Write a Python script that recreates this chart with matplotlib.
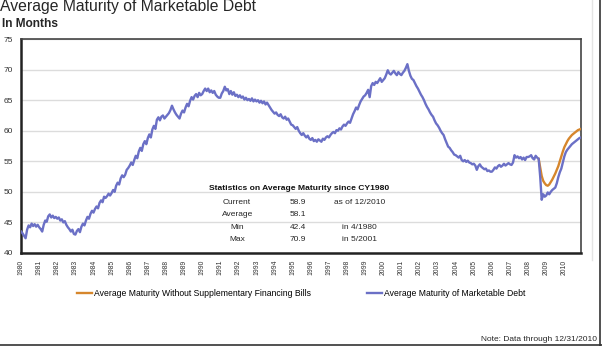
import numpy as np
import matplotlib
matplotlib.use("Agg")
from matplotlib import pyplot as plt
from matplotlib.lines import Line2D

plt.rcParams['font.family'] = ['Liberation Sans', 'DejaVu Sans']

# Monthly average maturity (months), Jan 1980 .. Dec 2010, one row per year
avg_maturity = [
    43.5, 43.2, 42.8, 42.4, 43.8, 44.5, 44.2, 44.8, 44.4, 44.7, 44.3, 44.6,  # 1980
    44.2, 43.9, 43.5, 44.6, 45.3, 45.1, 46.0, 46.3, 45.8, 46.1, 45.7, 45.9,  # 1981
    45.6, 45.8, 45.3, 45.5, 45.0, 45.2, 44.6, 44.2, 43.9, 43.5, 43.8, 43.1,  # 1982
    43.0, 43.6, 43.9, 43.4, 44.3, 44.8, 44.5, 45.3, 45.9, 45.6, 46.4, 46.9,  # 1983
    46.6, 47.2, 47.6, 47.3, 48.2, 48.6, 48.3, 49.2, 49.0, 49.3, 49.7, 49.4,  # 1984
    49.8, 50.3, 50.0, 51.0, 51.5, 51.2, 52.2, 52.7, 52.4, 52.8, 53.6, 53.9,  # 1985
    54.3, 54.8, 54.4, 55.2, 55.9, 55.5, 56.6, 57.2, 56.7, 57.8, 58.3, 57.8,  # 1986
    58.8, 59.4, 58.9, 60.2, 60.8, 60.3, 61.8, 62.2, 61.7, 62.3, 62.5, 62.0,  # 1987
    62.3, 62.6, 62.9, 63.4, 64.1, 63.5, 63.0, 62.6, 62.3, 62.0, 62.8, 63.3,  # 1988
    63.0, 63.8, 64.4, 64.0, 64.9, 65.5, 65.1, 65.7, 66.0, 65.5, 66.2, 65.8,  # 1989
    66.0, 66.5, 66.9, 66.5, 66.9, 66.3, 66.6, 66.2, 66.5, 65.9, 65.6, 65.4,  # 1990
    65.4, 66.1, 66.5, 67.2, 66.6, 66.8, 66.0, 66.5, 65.9, 66.3, 65.7, 65.9,  # 1991
    65.5, 65.8, 65.4, 65.6, 65.1, 65.4, 65.0, 65.2, 64.9, 65.3, 64.8, 65.1,  # 1992
    64.8, 65.0, 64.6, 64.9, 64.5, 64.8, 64.3, 64.6, 64.2, 63.8, 63.4, 63.1,  # 1993
    62.8, 63.0, 62.6, 62.4, 62.7, 62.2, 62.0, 62.3, 61.8, 62.0, 61.5, 61.0,  # 1994
    60.9, 60.6, 60.3, 60.6, 60.0, 59.6, 59.3, 59.6, 59.2, 58.9, 59.2, 58.7,  # 1995
    58.5, 58.8, 58.3, 58.5, 58.2, 58.6, 58.4, 58.2, 58.7, 58.5, 58.9, 59.1,  # 1996
    58.9, 59.3, 59.6, 59.8, 59.6, 60.1, 60.0, 60.4, 60.2, 60.7, 61.0, 60.8,  # 1997
    61.2, 61.5, 61.3, 62.0, 62.7, 63.2, 63.8, 63.5, 64.2, 64.8, 65.2, 65.6,  # 1998
    65.8, 66.2, 66.7, 65.5, 67.3, 67.8, 67.5, 68.0, 67.8, 68.2, 68.6, 68.0,  # 1999
    68.3, 68.6, 69.2, 69.9, 69.4, 69.2, 69.5, 69.8, 69.4, 69.1, 69.6, 69.3,  # 2000
    69.1, 69.5, 69.8, 70.3, 70.9, 69.8, 69.0, 68.5, 68.3, 67.8, 67.3, 66.9,  # 2001
    66.4, 65.9, 65.5, 65.0, 64.4, 63.9, 63.5, 63.0, 62.6, 62.3, 61.7, 61.2,  # 2002
    60.9, 60.5, 60.0, 59.6, 59.3, 58.6, 58.0, 57.4, 57.2, 56.8, 56.5, 56.1,  # 2003
    56.0, 55.8, 55.6, 55.9, 55.2, 55.0, 55.2, 54.9, 55.1, 54.8, 54.7, 54.5,  # 2004
    54.6, 54.3, 53.6, 54.2, 54.5, 54.1, 53.9, 53.7, 53.8, 53.4, 53.5, 53.3,  # 2005
    53.3, 53.6, 54.0, 53.8, 54.2, 54.4, 54.1, 54.3, 54.6, 54.3, 54.5, 54.7,  # 2006
    54.5, 54.4, 54.8, 56.0, 55.6, 55.8, 55.5, 55.7, 55.3, 55.6, 55.2, 55.7,  # 2007
    55.7, 55.8, 56.0, 55.5, 55.3, 55.9, 55.6, 55.4, 52.5, 48.7, 49.6, 49.2,  # 2008
    49.4, 49.9, 49.6, 50.0, 50.3, 50.5, 50.7, 51.4, 52.4, 53.2, 53.8, 54.8,  # 2009
    55.8, 56.5, 56.9, 57.2, 57.5, 57.8, 58.0, 58.2, 58.4, 58.6, 58.8, 58.9,  # 2010
]

# Without Supplementary Financing Bills, Aug 2008 .. Dec 2010
sfp_start = 343
avg_maturity_ex_sfp = [
    55.4, 54.0, 52.6, 51.8, 51.4, 51.1, 51.0, 51.2, 51.6, 52.0,
    52.5, 53.0, 53.6, 54.2, 55.0, 55.8, 56.6, 57.3, 57.8, 58.3,
    58.7, 59.0, 59.3, 59.5, 59.7, 59.9, 60.1, 60.2, 60.3,
]

years = list(range(1980, 2011))

stats_title = "Statistics on Average Maturity since CY1980"
stats_rows = [
    ("Current", "58.9", "as of 12/2010"),
    ("Average", "58.1", ""),
    ("Min", "42.4", "in 4/1980"),
    ("Max", "70.9", "in 5/2001"),
]

BLUE = "#6b70c6"
ORANGE = "#d6862c"
TEXT = "#262626"

fig = plt.figure(figsize=(6.02, 3.46), dpi=100)
ax = fig.add_axes([0.035, 0.269, 0.93, 0.618])

months = np.arange(len(avg_maturity))
ax.plot(np.arange(sfp_start, sfp_start + len(avg_maturity_ex_sfp)),
        avg_maturity_ex_sfp, color=ORANGE, lw=1.7, zorder=3)
ax.plot(months, avg_maturity, color=BLUE, lw=1.7, zorder=4)

ax.set_xlim(0, len(avg_maturity) - 1)
ax.set_ylim(40, 75)
ax.set_yticks(range(40, 80, 5))
ax.yaxis.grid(True, color="#dcdcdc", lw=1.0)
ax.set_axisbelow(True)
ax.set_xticks([12 * (y - 1980) for y in years])
ax.set_xticklabels([str(y) for y in years], rotation=90, fontsize=4.9,
                   color="#333333")
ax.tick_params(axis="both", length=0)
ax.tick_params(axis="y", labelsize=6, labelcolor="#333333", pad=6)
ax.tick_params(axis="x", pad=5)
for side in ["left", "bottom"]:
    ax.spines[side].set_linewidth(1.8)
    ax.spines[side].set_color("#222222")
for side in ["top", "right"]:
    ax.spines[side].set_linewidth(1.2)
    ax.spines[side].set_color("#444444")

# statistics box inside the plot
ax.text(0.496, 0.299, stats_title, transform=ax.transAxes, ha="center",
        va="center", fontsize=6.1, fontweight="bold", color="#111111")
for i, (label, value, note) in enumerate(stats_rows):
    yy = 0.238 - i * 0.059
    ax.text(0.386, yy, label, transform=ax.transAxes, ha="center",
            va="center", fontsize=6.0, color=TEXT)
    ax.text(0.495, yy, value, transform=ax.transAxes, ha="center",
            va="center", fontsize=6.0, color=TEXT)
    ax.text(0.605, yy, note, transform=ax.transAxes, ha="center",
            va="center", fontsize=6.0, color=TEXT)

# titles
fig.text(0.0, 0.969, "Average Maturity of Marketable Debt", fontsize=11.3,
         va="baseline", ha="left", color=TEXT)
fig.text(0.004, 0.923, "In Months", fontsize=8.6, fontweight="bold",
         va="baseline", ha="left", color=TEXT)

handles = [Line2D([], [], color=ORANGE, lw=1.7),
           Line2D([], [], color=BLUE, lw=1.7)]
labels = ["Average Maturity Without Supplementary Financing Bills",
          "Average Maturity of Marketable Debt"]
fig.legend(handles, labels, loc="center", bbox_to_anchor=(0.5, 0.153),
           ncol=2, frameon=False, fontsize=6.2, handlelength=1.75,
           handletextpad=0.25, columnspacing=6.5)

fig.text(0.992, 0.008, "Note: Data through 12/31/2010", fontsize=6.0,
         ha="right", va="bottom", color=TEXT)

# screenshot border on the right and bottom
fig.add_artist(Line2D([0.9975, 0.9975], [0, 1], color="#333333", lw=1.2,
                      transform=fig.transFigure))
fig.add_artist(Line2D([0, 1], [0.002, 0.002], color="#333333", lw=1.2,
                      transform=fig.transFigure))
fig.add_artist(Line2D([0.984, 0.984], [0.25, 1], color="#e4e4e4", lw=1.0,
                      transform=fig.transFigure))

fig.savefig("out.png", dpi=100)
